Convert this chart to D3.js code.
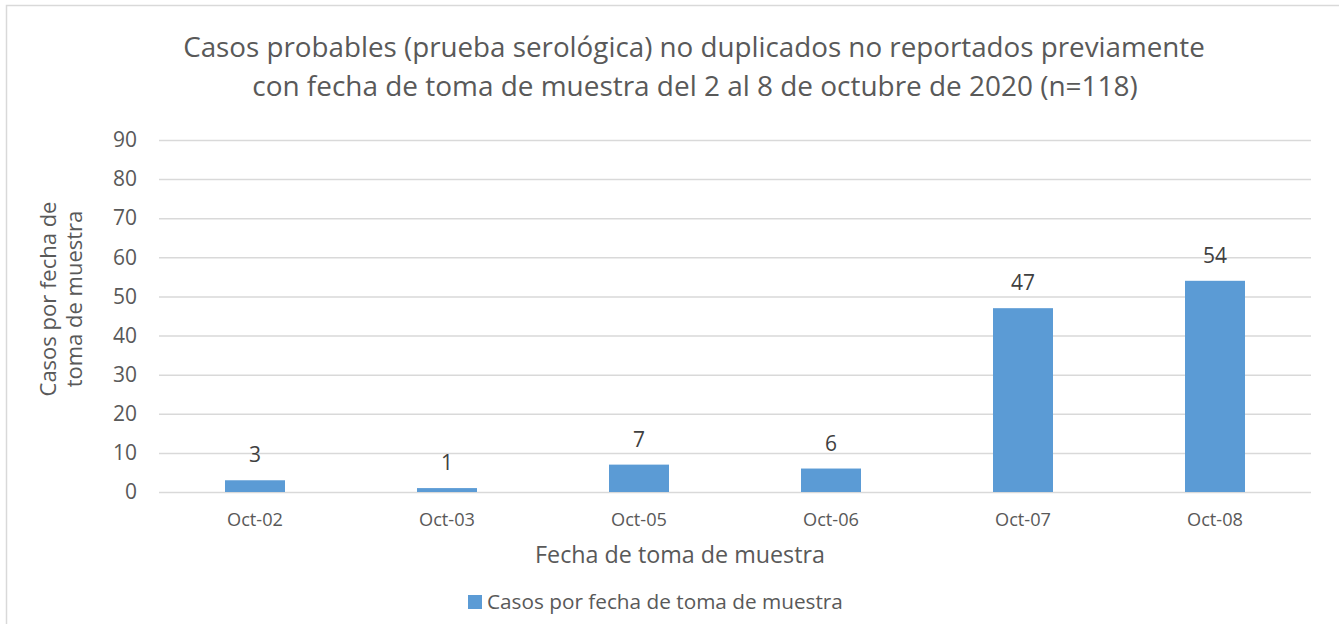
<!DOCTYPE html>
<html>
<head>
<meta charset="utf-8">
<script src="https://cdn.jsdelivr.net/npm/d3@7"></script>
<style>
  body { margin: 0; background: #fff; }
  text { font-family: "Open Sans", sans-serif; }
</style>
</head>
<body>
<script>
    // data
    var fechas = ["Oct-02", "Oct-03", "Oct-05", "Oct-06", "Oct-07", "Oct-08"];
    var casos = [3, 1, 7, 6, 47, 54];
    var yTicks = [0, 10, 20, 30, 40, 50, 60, 70, 80, 90];
    var titulo = ["Casos probables (prueba serológica) no duplicados no reportados previamente",
                  "con fecha de toma de muestra del 2 al 8 de octubre de 2020 (n=118)"];
    var tituloY = ["Casos por fecha de", "toma de muestra"];
    var tituloX = "Fecha de toma de muestra";
    var serie = "Casos por fecha de toma de muestra";

    var W = 1339, H = 624;
    var plotL = 159, plotR = 1311, plotT = 140, plotB = 492;

    var svg = d3.select("body").append("svg")
                .attr("width", W)
                .attr("height", H);

    // shrink/grow the font so the text takes the width seen in the picture
    function fit(sel, w) {
        var fs = parseFloat(sel.attr("font-size"));
        var len = sel.node().getComputedTextLength();
        sel.attr("font-size", fs * w / len);
        return fs * w / len;
    }

    svg.append("rect")
       .attr("x", 6.5).attr("y", 5.5)
       .attr("width", W + 10).attr("height", H + 10)
       .attr("fill", "#fff")
       .attr("stroke", "#d9d9d9")
       .attr("stroke-width", 1.5);

    var x = d3.scaleBand()
              .domain(fechas)
              .range([plotL, plotR])
              .paddingInner(0.6875)
              .paddingOuter(0.34375);

    var y = d3.scaleLinear()
              .domain([0, 90])
              .range([plotB, plotT]);

    // gridlines + y labels
    var yAxis = svg.append("g")
                   .attr("transform", "translate(" + plotL + ",0)")
                   .call(d3.axisLeft(y).tickValues(yTicks).tickSize(-(plotR - plotL)).tickPadding(22));
    yAxis.select(".domain").remove();
    yAxis.selectAll(".tick line").attr("stroke", "#d9d9d9").attr("stroke-width", 1.5);
    yAxis.selectAll(".tick text")
         .attr("font-family", "Open Sans").attr("font-size", 20)
         .attr("fill", "#595959");
    var numSize = fit(yAxis.selectAll(".tick text").filter(function (d) { return d === 90; }), 24);
    yAxis.selectAll(".tick text").attr("font-size", numSize);

    // x labels
    var xAxis = svg.append("g")
                   .attr("transform", "translate(0," + plotB + ")")
                   .call(d3.axisBottom(x).tickSize(0).tickPadding(21));
    xAxis.select(".domain").remove();
    xAxis.selectAll(".tick text")
         .attr("font-family", "Open Sans").attr("font-size", 16)
         .attr("fill", "#595959");
    var catSize = fit(xAxis.select(".tick text"), 56);
    xAxis.selectAll(".tick text").attr("font-size", catSize);

    svg.selectAll(".bar")
       .data(casos)
       .enter().append("rect")
       .attr("class", "bar")
       .attr("x", function (d, i) { return x(fechas[i]); })
       .attr("y", function (d) { return y(d); })
       .attr("width", x.bandwidth())
       .attr("height", function (d) { return plotB - y(d); })
       .attr("fill", "#5b9bd5");

    svg.selectAll(".lbl")
       .data(casos)
       .enter().append("text")
       .attr("class", "lbl")
       .attr("x", function (d, i) { return x(fechas[i]) + x.bandwidth() / 2; })
       .attr("y", function (d) { return y(d) - 18; })
       .attr("text-anchor", "middle")
       .attr("font-size", numSize)
       .attr("fill", "#404040")
       .text(function (d) { return d; });

    // title
    var t1 = svg.append("text").attr("x", 694).attr("y", 57)
                .attr("text-anchor", "middle").attr("font-size", 24)
                .attr("fill", "#595959").text(titulo[0]);
    fit(t1, 1022);
    var t2 = svg.append("text").attr("x", 695).attr("y", 96)
                .attr("text-anchor", "middle").attr("font-size", 24)
                .attr("fill", "#595959").text(titulo[1]);
    fit(t2, 886);

    // axis titles
    var tx = svg.append("text").attr("x", 680).attr("y", 563)
                .attr("text-anchor", "middle").attr("font-size", 20)
                .attr("fill", "#595959").text(tituloX);
    fit(tx, 290);

    tituloY.forEach(function (s, i) {
        svg.append("text")
           .attr("transform", "translate(" + (56 + i * 26) + ",299) rotate(-90)")
           .attr("text-anchor", "middle").attr("font-size", 22)
           .attr("fill", "#595959").text(s);
    });

    // legend
    svg.append("rect").attr("x", 468).attr("y", 595)
       .attr("width", 14).attr("height", 14).attr("fill", "#5b9bd5");
    var lg = svg.append("text").attr("x", 487).attr("y", 609)
                .attr("font-size", 17).attr("fill", "#595959").text(serie);
    fit(lg, 356);
</script>
</body>
</html>
